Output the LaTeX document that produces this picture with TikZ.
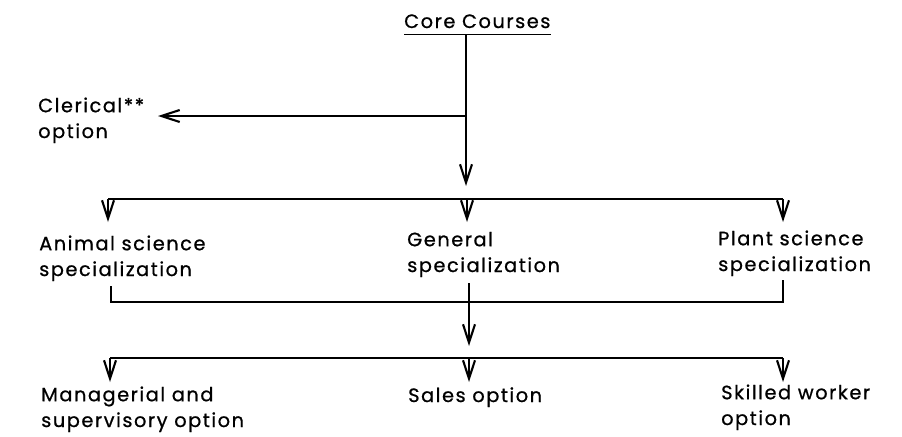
\documentclass[tikz,border=0pt]{standalone}
\usepackage{fontspec}
\setmainfont{Poppins}[LetterSpace=8,FakeBold=0.8]
\usetikzlibrary{arrows.meta}
\tikzset{label node/.style={anchor=base west,align=left,inner sep=0pt,font=\fontsize{16.5}{22}\selectfont},
  flow/.style={line width=1.2pt},
  flow arrow/.style={flow,-{Straight Barb[length=5.5mm,width=3.6mm,line width=1.8pt]}},
}

\begin{document}
\begin{tikzpicture}[x=0.03cm,y=-0.03cm]
	\useasboundingbox (0,0) rectangle (902,436);
	% labels (base = last line)
	\node[label node,inner ysep=0.18cm] (core) at (404,28) {Core Courses};
	\node[label node] (clerical) at (38,138) {Clerical**\\option};
	\node[label node] (animal) at (39,276) {Animal science\\specialization};
	\node[label node] (general) at (407,272) {General\\specialization};
	\node[label node] (plant) at (718,271) {Plant science\\specialization};
	\node[label node] (managerial) at (41,427) {Managerial and\\supervisory option};
	\node[label node] (sales) at (408,402) {Sales option};
	\node[label node] (skilled) at (721,425) {Skilled worker\\option};
	
	% junctions
	\coordinate (trunk) at (466,34);
	\coordinate (fork) at (466,116);
	\coordinate (clerical in) at (158,116);
	\coordinate (core out) at (466,186);
	\coordinate (bar1 west) at (108,199);
	\coordinate (bar1 mid) at (467,199);
	\coordinate (bar1 east) at (783,199);
	\coordinate (animal in) at (108,222);
	\coordinate (general in) at (467,222);
	\coordinate (plant in) at (783,222);
	\coordinate (animal out) at (111,286);
	\coordinate (bar2 west) at (111,302);
	\coordinate (bar2 east) at (783,302);
	\coordinate (plant out) at (783,280);
	\coordinate (general out) at (469,283);
	\coordinate (general down) at (469,346);
	\coordinate (bar3 west) at (110,358);
	\coordinate (bar3 mid) at (469,358);
	\coordinate (bar3 east) at (783,358);
	\coordinate (managerial in) at (110,382);
	\coordinate (sales in) at (469,382);
	\coordinate (skilled in) at (783,382);
	
	\draw[flow] (core.south west) -- (core.south east);
	\draw[flow arrow] (trunk) -- (core out);
	\draw[flow arrow] (fork) -- (clerical in);
	\draw[flow] (bar1 west) -- (bar1 east);
	\draw[flow] (animal out) -- (bar2 west) -- (bar2 east) -- (plant out);
	\draw[flow arrow] (general out) -- (general down);
	\draw[flow] (bar3 west) -- (bar3 east);
	\path[flow arrow]
	(bar1 west) edge (animal in)
	(bar1 mid) edge (general in)
	(bar1 east) edge (plant in)
	(bar3 west) edge (managerial in)
	(bar3 mid) edge (sales in)
	(bar3 east) edge (skilled in);
\end{tikzpicture}
\end{document}
